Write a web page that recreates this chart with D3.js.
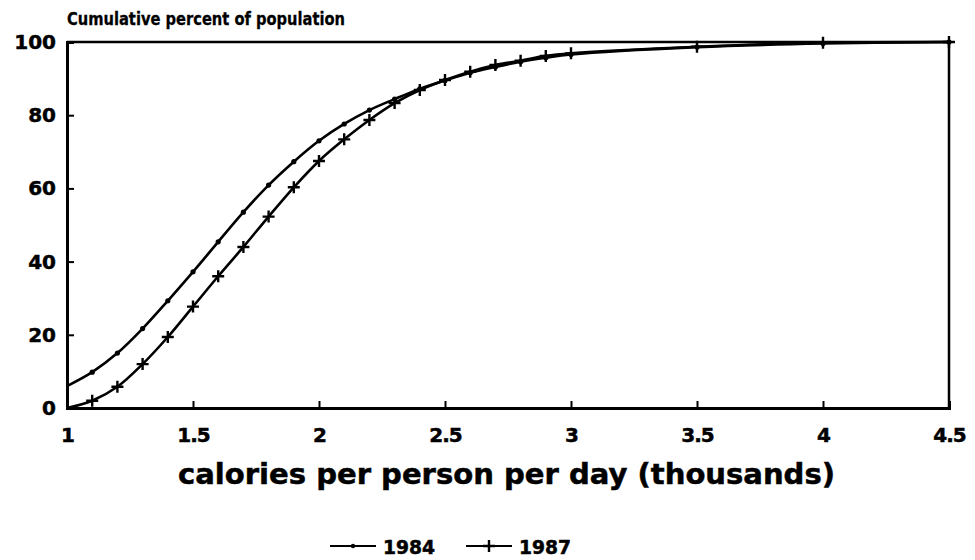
<!DOCTYPE html>
<html>
<head>
<meta charset="utf-8">
<script src="https://cdn.jsdelivr.net/npm/d3@7"></script>
<style>
  body { margin: 0; background: #fff; }
  text { font-family: "DejaVu Sans", "Liberation Sans", Arial, sans-serif; font-weight: bold; fill: #000; }
</style>
</head>
<body>
<svg id="chart" width="975" height="560"></svg>
<script>
// calorie levels (thousands) where points were plotted
const calories = [1.0, 1.1, 1.2, 1.3, 1.4, 1.5, 1.6, 1.7, 1.8, 1.9, 2.0,
                  2.1, 2.2, 2.3, 2.4, 2.5, 2.6, 2.7, 2.8, 2.9, 3.0, 3.5, 4.0, 4.5];

// cumulative percent of population
const pop1984 = [6, 9.8, 15, 21.7, 29.3, 37.2, 45.4, 53.5, 60.9, 67.3, 73,
                 77.6, 81.4, 84.4, 87.2, 89.5, 91.6, 93.2, 94.6, 95.7, 96.6, 98.6, 99.6, 100];
const pop1987 = [0, 2, 5.8, 12, 19.4, 27.7, 36, 44, 52.3, 60.3, 67.5,
                 73.4, 78.7, 83.3, 86.9, 89.6, 91.9, 93.7, 94.9, 96.2, 96.9, 98.7, 99.8, 100];

const xTicks = [1, 1.5, 2, 2.5, 3, 3.5, 4, 4.5];
const yTicks = [0, 20, 40, 60, 80, 100];
const seriesNames = ["1984", "1987"];

const svg = d3.select("#chart");

// plot box
const plotLeft = 67, plotRight = 949, plotTop = 42, plotBottom = 408;

const x = d3.scaleLinear().domain([1, 4.5]).range([plotLeft, plotRight]);
const y = d3.scaleLinear().domain([0, 100]).range([plotBottom, plotTop]);

// frame (top and right edges)
svg.append("line")
    .attr("x1", plotLeft).attr("x2", plotRight)
    .attr("y1", plotTop).attr("y2", plotTop)
    .attr("stroke", "#000").attr("stroke-width", 2.5);
svg.append("line")
    .attr("x1", plotRight).attr("x2", plotRight)
    .attr("y1", plotTop).attr("y2", plotBottom)
    .attr("stroke", "#000").attr("stroke-width", 2.5);

// axes
const xAxis = svg.append("g")
    .attr("transform", `translate(0,${plotBottom})`)
    .call(d3.axisBottom(x).tickValues(xTicks).tickSize(-7).tickPadding(20)
        .tickFormat(d => String(d)));
const yAxis = svg.append("g")
    .attr("transform", `translate(${plotLeft},0)`)
    .call(d3.axisLeft(y).tickValues(yTicks).tickSize(-7).tickPadding(11));

[xAxis, yAxis].forEach(g => {
    g.select(".domain").attr("stroke-width", 3);
    g.selectAll(".tick line").attr("stroke-width", 2);
    g.selectAll(".tick text")
        .attr("font-size", 20)
        .attr("font-family", "DejaVu Sans, sans-serif")
        .attr("font-weight", "bold")
        .attr("stroke", "#000").attr("stroke-width", 0.5);
});
xAxis.selectAll(".tick text").attr("letter-spacing", -1);

// titles
svg.append("text")
    .attr("x", plotLeft).attr("y", 25)
    .attr("font-size", 17)
    .attr("textLength", 278).attr("lengthAdjust", "spacingAndGlyphs")
    .attr("stroke", "#000").attr("stroke-width", 0.3)
    .text("Cumulative percent of population");

svg.append("text")
    .attr("x", 178).attr("y", 484)
    .attr("font-size", 28)
    .attr("textLength", 657).attr("lengthAdjust", "spacingAndGlyphs")
    .attr("stroke", "#000").attr("stroke-width", 0.5)
    .text("calories per person per day (thousands)");

// lines
const line = d3.line()
    .x(d => x(d[0]))
    .y(d => y(d[1]))
    .curve(d3.curveCatmullRom.alpha(0.5));

const data84 = calories.map((c, i) => [c, pop1984[i]]);
const data87 = calories.map((c, i) => [c, pop1987[i]]);

svg.append("path")
    .datum(data84)
    .attr("d", line)
    .attr("fill", "none").attr("stroke", "#000").attr("stroke-width", 2.6);
svg.append("path")
    .datum(data87)
    .attr("d", line)
    .attr("fill", "none").attr("stroke", "#000").attr("stroke-width", 2.6);

// markers: dots for 1984, crosses for 1987
svg.append("g")
    .selectAll("circle")
    .data(data84.slice(1))
    .join("circle")
    .attr("cx", d => x(d[0]))
    .attr("cy", d => y(d[1]))
    .attr("r", 2.6)
    .attr("fill", "#000");

const plus = (g, cx, cy) => {
    g.append("path")
        .attr("d", `M${cx - 6},${cy}H${cx + 6}M${cx},${cy - 6}V${cy + 6}`)
        .attr("stroke", "#000").attr("stroke-width", 2.4);
};
const crossG = svg.append("g");
data87.slice(1).forEach(d => plus(crossG, x(d[0]), y(d[1])));

// legend
const legend = svg.append("g");
const legendX = [330, 466];
seriesNames.forEach((name, i) => {
    const lx = legendX[i];
    legend.append("line")
        .attr("x1", lx).attr("x2", lx + 46)
        .attr("y1", 546).attr("y2", 546)
        .attr("stroke", "#000").attr("stroke-width", 2.2);
    if (i === 0) {
        legend.append("circle")
            .attr("cx", lx + 23).attr("cy", 546).attr("r", 2.2).attr("fill", "#000");
    } else {
        plus(legend, lx + 23, 546);
    }
    legend.append("text")
        .attr("x", lx + 53).attr("y", 554)
        .attr("font-size", 19)
        .attr("textLength", 52).attr("lengthAdjust", "spacingAndGlyphs")
        .attr("stroke", "#000").attr("stroke-width", 0.5)
        .text(name);
});
</script>
</body>
</html>
